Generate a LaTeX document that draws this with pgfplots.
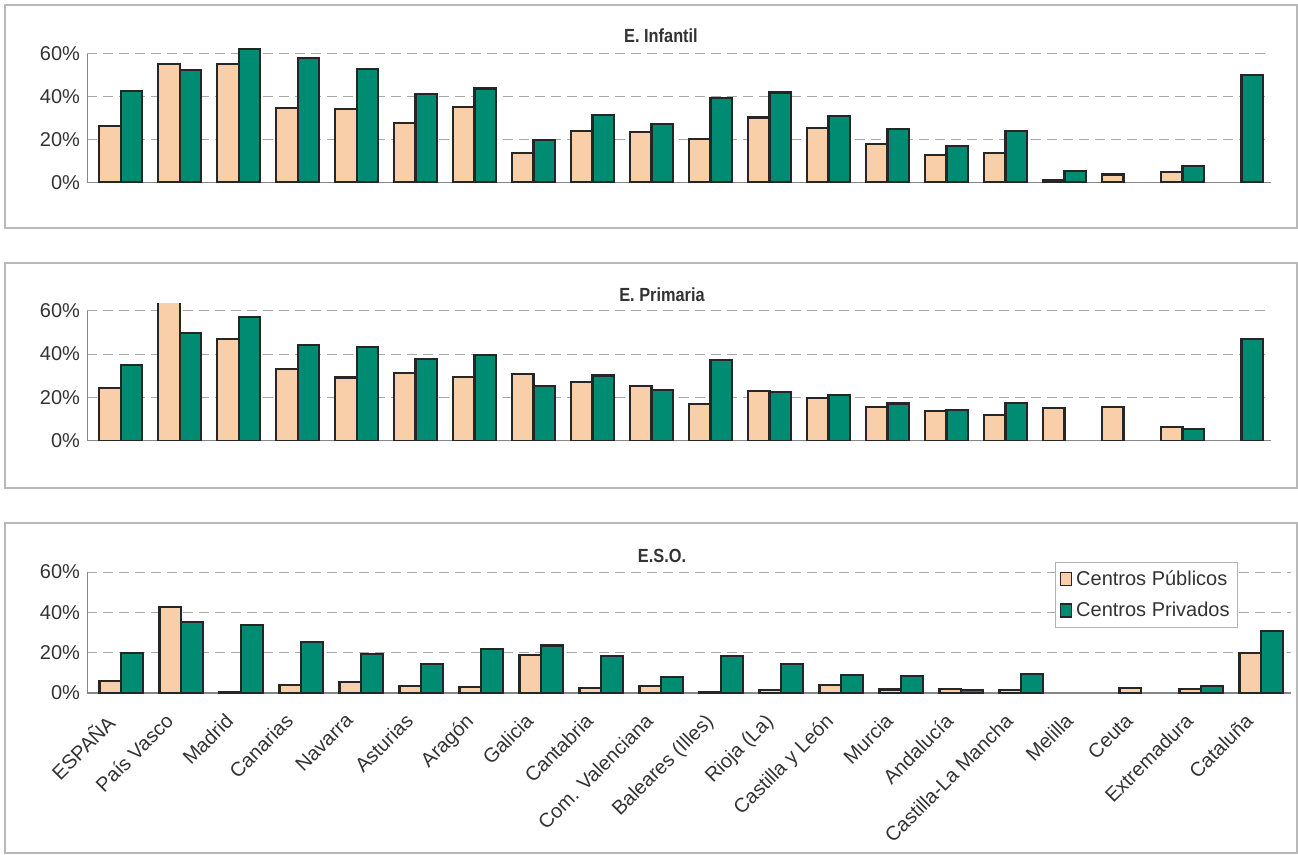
\documentclass[border=0pt]{standalone}
\usepackage{fontspec}
\setmainfont{Liberation Sans}
\newfontfamily\titlefont[FakeStretch=0.86]{Liberation Sans}
\usepackage{pgfplots}
\pgfplotsset{compat=1.18}
\usepackage{pgfplotstable}

\definecolor{pub}{HTML}{F8CFA8}
\definecolor{priv}{HTML}{008C72}
\definecolor{txt}{HTML}{333333}
\definecolor{gridc}{HTML}{A8A8A8}

\pgfplotstableread{
idx pub priv
0 26.3 42.7
1 55.3 52.5
2 55.3 62.3
3 34.7 58.1
4 34.2 53.0
5 27.8 41.3
6 35.1 43.9
7 13.7 19.7
8 24.0 31.6
9 23.4 27.2
10 20.2 39.5
11 30.3 42.0
12 25.6 31.1
13 17.8 25.0
14 12.7 17.2
15 13.9 23.9
16 0.9 5.5
17 3.7 nan
18 4.8 7.6
19 nan 50.3
}\infantil

\pgfplotstableread{
idx pub priv
0 24.3 35.1
1 66.0 49.6
2 46.8 57.0
3 33.1 44.2
4 29.2 43.1
5 31.2 37.6
6 29.5 39.6
7 30.9 25.2
8 27.0 30.1
9 25.3 23.3
10 16.9 37.3
11 23.0 22.4
12 19.7 21.3
13 15.5 17.2
14 13.7 14.3
15 12.1 17.3
16 15.0 nan
17 15.8 nan
18 6.6 5.4
19 nan 46.8
}\primaria

\pgfplotstableread{
idx pub priv
0 5.9 19.7
1 42.5 35.4
2 0.5 33.6
3 4.1 25.1
4 5.5 19.3
5 3.6 14.5
6 3.0 21.7
7 18.8 23.6
8 2.3 18.3
9 3.3 7.9
10 0.5 18.3
11 1.3 14.5
12 4.1 9.1
13 1.7 8.3
14 2.1 1.3
15 1.3 9.6
16 nan nan
17 2.6 nan
18 1.8 3.5
19 19.7 30.7
}\eso

\pgfplotsset{
  panel/.style={
    scale only axis,
    ybar=0pt,
    bar width=0.36,
    xmin=-0.57, xmax=19.5,
    ymin=0, ymax=63,
    ytick={0,20,40,60},
    yticklabels={0\%,20\%,40\%,60\%},
    xtick={0,...,19},
    major tick length=0pt,
    axis line style={draw=none},
    ymajorgrids,
    grid style={gridc, dash pattern=on 5pt off 3pt, line width=0.5pt},
    tick label style={font=\fontsize{10}{12}\selectfont, text=txt},
    clip=true,
  },
  pubbar/.style={fill=pub, draw=black!85, line width=1.1pt},
  privbar/.style={fill=priv, draw=black!85, line width=1.1pt},
}

\begin{document}
\begin{tikzpicture}[x=0.5pt,y=-0.5pt]
\useasboundingbox (0,0) rectangle (1298,855);
\draw[gray!55, line width=0.6pt] (5,5) rectangle (1297,228);
\draw[gray!55, line width=0.6pt] (5,263) rectangle (1297,488);
\draw[gray!55, line width=0.6pt] (5,523) rectangle (1297,853);

\coordinate (o1) at (87,182.5);
\coordinate (o2) at (87,441);
\coordinate (o3) at (87,693);

% Panel 1
\begin{axis}[panel, at={(o1)}, anchor=south west, width=592pt, height=67.5pt, xticklabels={}]
\draw[gridc!80!black, line width=0.6pt] (axis cs:-0.57,0) -- (axis cs:-0.57,60);
\draw[gridc!80!black, line width=0.6pt] (axis cs:-0.57,0) -- (axis cs:19.5,0);
\addplot[pubbar] table[x=idx,y=pub] {\infantil};
\addplot[privbar] table[x=idx,y=priv] {\infantil};
\end{axis}

% Panel 2
\begin{axis}[panel, at={(o2)}, anchor=south west, width=592pt, height=68.5pt, xticklabels={}]
\draw[gridc!80!black, line width=0.6pt] (axis cs:-0.57,0) -- (axis cs:-0.57,60);
\draw[gridc!80!black, line width=0.6pt] (axis cs:-0.57,0) -- (axis cs:19.5,0);
\addplot[pubbar] table[x=idx,y=pub] {\primaria};
\addplot[privbar] table[x=idx,y=priv] {\primaria};
\end{axis}

% Panel 3
\begin{axis}[panel, at={(o3)}, anchor=south west, width=602pt, height=63.5pt,
  xticklabels={ESPAÑA,País Vasco,Madrid,Canarias,Navarra,Asturias,Aragón,Galicia,Cantabria,Com. Valenciana,Baleares (Illes),Rioja (La),Castilla y León,Murcia,Andalucía,Castilla-La Mancha,Melilla,Ceuta,Extremadura,Cataluña},
  xticklabel style={xshift=-8.5pt, yshift=-8pt, rotate=45, anchor=north east, inner sep=1pt},
  legend style={at={(0.956,1.03)}, anchor=north east, draw=gray!60, fill=white,
    font=\fontsize{10}{12}\selectfont, text=txt, row sep=3pt, inner sep=2pt},
  legend cell align=left,
  legend image code/.code={\draw[#1, line width=0.8pt] (0pt,-3pt) rectangle (5.5pt,3.5pt);},
]
\draw[gridc!80!black, line width=0.6pt] (axis cs:-0.57,0) -- (axis cs:-0.57,60);
\draw[gridc!80!black, line width=0.6pt] (axis cs:-0.57,0) -- (axis cs:19.5,0);
\addplot[pubbar] table[x=idx,y=pub] {\eso};
\addplot[privbar] table[x=idx,y=priv] {\eso};
\legend{Centros Públicos,Centros Privados}
\end{axis}

\node[font=\titlefont\bfseries\fontsize{9.5}{11}\selectfont, text=txt] at (661,36) {E. Infantil};
\node[font=\titlefont\bfseries\fontsize{9.5}{11}\selectfont, text=txt] at (662,295) {E. Primaria};
\node[font=\titlefont\bfseries\fontsize{9.5}{11}\selectfont, text=txt] at (662,556) {E.S.O.};
\end{tikzpicture}
\end{document}
